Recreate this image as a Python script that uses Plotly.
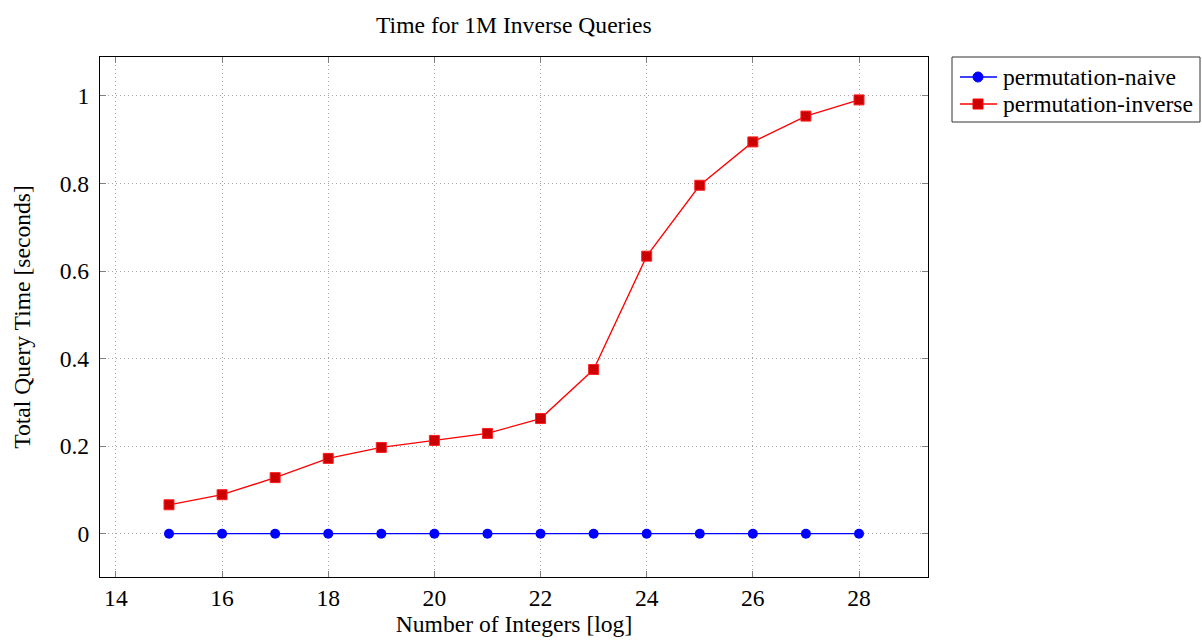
import plotly.graph_objects as go

# log2 of the number of integers
log_sizes = [15, 16, 17, 18, 19, 20, 21, 22, 23, 24, 25, 26, 27, 28]

# total time for 1M queries, in seconds
naive_times = [0.0, 0.0, 0.0, 0.0, 0.0, 0.0, 0.0, 0.0, 0.0, 0.0, 0.0, 0.0, 0.0, 0.0]
inverse_times = [0.066, 0.089, 0.128, 0.172, 0.197, 0.213, 0.229, 0.263,
                 0.375, 0.634, 0.796, 0.895, 0.954, 0.991]

x_ticks = [14, 16, 18, 20, 22, 24, 26, 28]
y_ticks = [0, 0.2, 0.4, 0.6, 0.8, 1.0]
y_tick_text = ["0", "0.2", "0.4", "0.6", "0.8", "1"]

series_names = ["permutation-naive", "permutation-inverse"]

FONT = "Liberation Serif, Times New Roman, serif"
FS = 23.6

W, H = 1202, 644
M_L, M_R, M_T, M_B = 100, 274, 57, 67
PLOT_W = W - M_L - M_R
PLOT_H = H - M_T - M_B


def px_x(px):
    """Page x pixel -> paper coordinate."""
    return (px - M_L) / PLOT_W


def px_y(py):
    """Page y pixel -> paper coordinate."""
    return (H - M_B - py) / PLOT_H


fig = go.Figure()
fig.add_trace(go.Scatter(
    x=log_sizes, y=naive_times, mode="lines+markers", name=series_names[0],
    line=dict(color="#0000ff", width=1.3),
    marker=dict(symbol="circle", size=10, color="#0000ff", line=dict(width=0)),
))
fig.add_trace(go.Scatter(
    x=log_sizes, y=inverse_times, mode="lines+markers", name=series_names[1],
    line=dict(color="#ff0000", width=1.3),
    marker=dict(symbol="square", size=10, color="#cc0000", line=dict(color="#ff2020", width=1)),
))

axis_common = dict(
    showline=True, linecolor="black", linewidth=1.2, mirror="ticks",
    ticks="inside", ticklen=6, tickcolor="#808080", tickwidth=1,
    showgrid=True, gridcolor="#a8a8a8", griddash="1px,3px", gridwidth=1,
    zeroline=False,
    tickfont=dict(family=FONT, size=FS, color="black"),
)

fig.update_xaxes(
    range=[13.7, 29.3], tickvals=x_ticks,
    title=dict(text="Number of Integers [log]", font=dict(family=FONT, size=FS, color="black"), standoff=4),
    **axis_common,
)
fig.update_yaxes(
    range=[-0.099, 1.089], tickvals=y_ticks, ticktext=y_tick_text,
    ticklabelstandoff=5,
    title=dict(text="Total Query Time [seconds]", font=dict(family=FONT, size=FS, color="black"), standoff=22),
    **axis_common,
)

# legend box drawn in paper space, to the right of the axes
shapes = [dict(type="rect", xref="paper", yref="paper",
               x0=px_x(952), x1=px_x(1200), y0=px_y(122), y1=px_y(57),
               line=dict(color="#333333", width=1), fillcolor="white", layer="above")]
annotations = []
legend_styles = [
    dict(color="#0000ff", fill="#0000ff", shape="circle", row_y=77),
    dict(color="#ff0000", fill="#cc0000", shape="rect", row_y=104),
]
for name, st in zip(series_names, legend_styles):
    ry = st["row_y"]
    shapes.append(dict(type="line", xref="paper", yref="paper",
                       x0=px_x(960), x1=px_x(997), y0=px_y(ry), y1=px_y(ry),
                       line=dict(color=st["color"], width=1.3), layer="above"))
    r = 5
    shapes.append(dict(type=st["shape"], xref="paper", yref="paper",
                       x0=px_x(978 - r), x1=px_x(978 + r), y0=px_y(ry + r), y1=px_y(ry - r),
                       fillcolor=st["fill"], line=dict(color=st["color"], width=1), layer="above"))
    annotations.append(dict(text=name, xref="paper", yref="paper",
                            x=px_x(1001), y=px_y(ry), xanchor="left", yanchor="middle",
                            showarrow=False, font=dict(family=FONT, size=FS, color="black")))

fig.update_layout(
    width=W, height=H,
    margin=dict(l=M_L, r=M_R, t=M_T, b=M_B, autoexpand=False),
    paper_bgcolor="white", plot_bgcolor="white",
    title=dict(text="Time for 1M Inverse Queries", x=0.4275, xanchor="center",
               y=0.961, yanchor="middle",
               font=dict(family=FONT, size=FS, color="black")),
    showlegend=False,
    shapes=shapes,
    annotations=annotations,
)

fig.write_html("out.html")
